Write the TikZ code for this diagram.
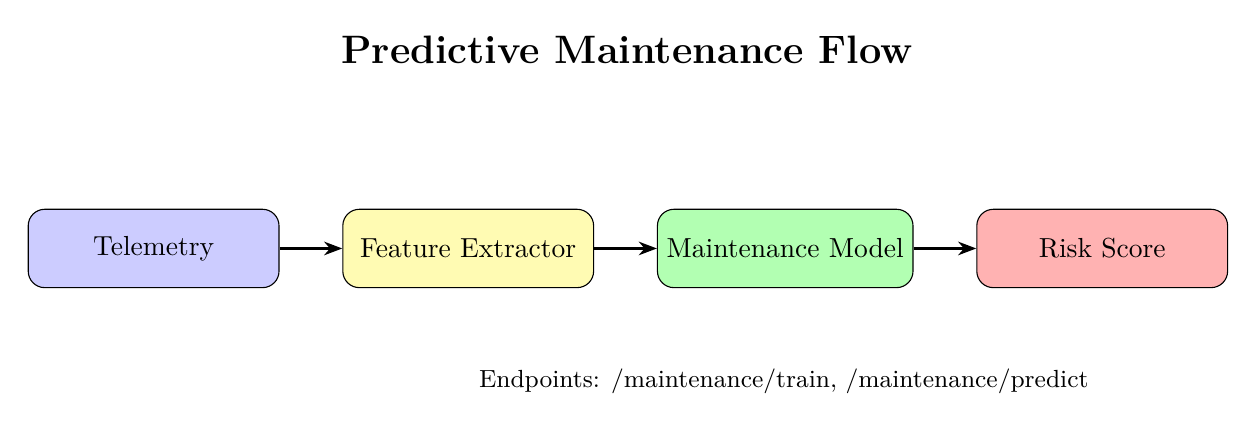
\documentclass[tikz,border=0pt]{standalone}
\usetikzlibrary{positioning,arrows.meta}

\tikzset{
  stage/.style={draw, rounded corners=6pt, minimum width=3.2cm, minimum height=1cm, align=center},
  flow/.style={-Stealth, thick}
}

\begin{document}
\begin{tikzpicture}[node distance=0.8cm]
  \useasboundingbox (0,0) rectangle (16.0,5.5);
  % Define nodes
  \node[stage, fill=blue!20]                  (tele)  at (1.96,2.33) {Telemetry};
  \node[stage, fill=yellow!30, right=of tele] (feat)  {Feature Extractor};
  \node[stage, fill=green!30,  right=of feat] (model) {Maintenance Model};
  \node[stage, fill=red!30,    right=of model](risk)  {Risk Score};
  \node[font=\Large\bfseries] (title) at (8.0,4.86) {Predictive Maintenance Flow};
  \node[font=\small] (ends) at (10.0,0.63) {Endpoints: /maintenance/train, /maintenance/predict};

  % Connect the nodes
  \draw[flow] (tele)  -- (feat);
  \draw[flow] (feat)  -- (model);
  \draw[flow] (model) -- (risk);
\end{tikzpicture}
\end{document}
